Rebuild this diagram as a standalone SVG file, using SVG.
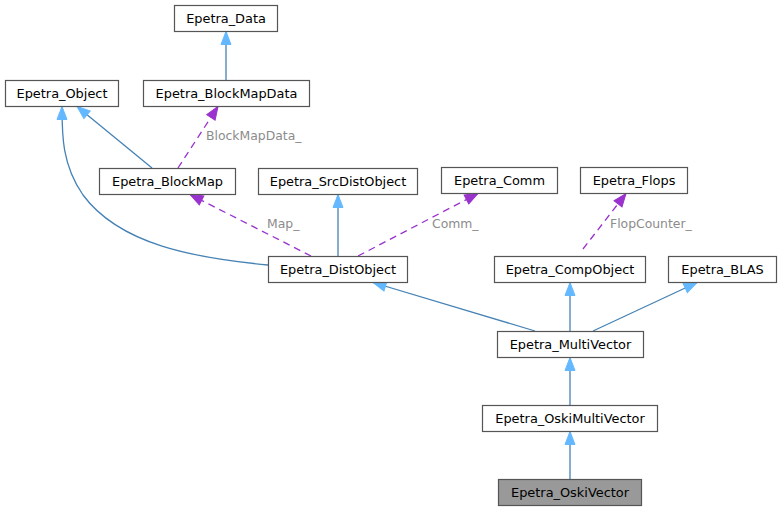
<svg xmlns="http://www.w3.org/2000/svg" width="780" height="511" viewBox="0 0 780 511">
<style>
.node rect{fill:#ffffff;stroke:#555555;stroke-width:1.2}
.node.root rect{fill:#999999}
.node text{font-family:"DejaVu Sans",sans-serif;font-size:12.9px;fill:#000;text-anchor:middle}
.inh{fill:none;stroke:#4682b4;stroke-width:1.3}
.use{fill:none;stroke:#9a32cd;stroke-width:1.3;stroke-dasharray:7,5}
.lbl{font-family:"DejaVu Sans",sans-serif;font-size:12.4px;fill:#8c8c8c}
</style>
<defs>
<marker id="ab" markerUnits="userSpaceOnUse" markerWidth="16" markerHeight="14" refX="14" refY="6" orient="auto">
<path d="M1,1 L14,6 L1,11 z" fill="#63b8ff" stroke="#63b8ff" stroke-width="1"/>
</marker>
<marker id="ap" markerUnits="userSpaceOnUse" markerWidth="16" markerHeight="14" refX="14" refY="6" orient="auto">
<path d="M1,1 L14,6 L1,11 z" fill="#9a32cd" stroke="#9a32cd" stroke-width="1"/>
</marker>
</defs>
<g id="connectors">
<path class="inh" d="M226,80 L226,31.5" marker-end="url(#ab)"/>
<path class="inh" d="M152,168 L77,106.5" marker-end="url(#ab)"/>
<path class="inh" d="M268,265 C195,258 120,245 83,195 C62,165 62,135 62,106.5" marker-end="url(#ab)"/>
<path class="use" d="M178,168 L218,106.5" marker-end="url(#ap)"/>
<path class="use" d="M311,256 L190,194.5" marker-end="url(#ap)"/>
<path class="inh" d="M338,256 L338,194.5" marker-end="url(#ab)"/>
<path class="use" d="M358,256 L478,193.5" marker-end="url(#ap)"/>
<path class="use" d="M583,249 L626,193.5" marker-end="url(#ap)"/>
<path class="inh" d="M535,331 L373,282.5" marker-end="url(#ab)"/>
<path class="inh" d="M570,331 L570,282.5" marker-end="url(#ab)"/>
<path class="inh" d="M593,331 L697,282.5" marker-end="url(#ab)"/>
<path class="inh" d="M570,405 L570,357.5" marker-end="url(#ab)"/>
<path class="inh" d="M570,479 L570,431.5" marker-end="url(#ab)"/>
<text class="lbl" x="206" y="140">BlockMapData_</text>
<text class="lbl" x="267" y="228">Map_</text>
<text class="lbl" x="432" y="228">Comm_</text>
<text class="lbl" x="610" y="228">FlopCounter_</text>
</g>
<g id="Epetra_Data" class="node"><rect x="174.5" y="5.5" width="103" height="26"/><text x="226" y="22.5">Epetra_Data</text></g>
<g id="Epetra_Object" class="node"><rect x="5.5" y="80.5" width="113" height="26"/><text x="62" y="97.5">Epetra_Object</text></g>
<g id="Epetra_BlockMapData" class="node"><rect x="143.5" y="80.5" width="166" height="26"/><text x="226.5" y="97.5">Epetra_BlockMapData</text></g>
<g id="Epetra_BlockMap" class="node"><rect x="99.5" y="168.5" width="136" height="26"/><text x="167.5" y="185.5">Epetra_BlockMap</text></g>
<g id="Epetra_SrcDistObject" class="node"><rect x="258.5" y="168.5" width="159" height="26"/><text x="338" y="185.5">Epetra_SrcDistObject</text></g>
<g id="Epetra_Comm" class="node"><rect x="441.5" y="167.5" width="116" height="26"/><text x="499.5" y="184.5">Epetra_Comm</text></g>
<g id="Epetra_Flops" class="node"><rect x="580.5" y="167.5" width="107" height="26"/><text x="634" y="184.5">Epetra_Flops</text></g>
<g id="Epetra_DistObject" class="node"><rect x="268.5" y="256.5" width="139" height="26"/><text x="338" y="273.5">Epetra_DistObject</text></g>
<g id="Epetra_CompObject" class="node"><rect x="494.5" y="256.5" width="151" height="26"/><text x="570" y="273.5">Epetra_CompObject</text></g>
<g id="Epetra_BLAS" class="node"><rect x="668.5" y="256.5" width="108" height="26"/><text x="722.5" y="273.5">Epetra_BLAS</text></g>
<g id="Epetra_MultiVector" class="node"><rect x="497.5" y="331.5" width="146" height="26"/><text x="570.5" y="348.5">Epetra_MultiVector</text></g>
<g id="Epetra_OskiMultiVector" class="node"><rect x="482.5" y="405.5" width="175" height="26"/><text x="570" y="422.5">Epetra_OskiMultiVector</text></g>
<g id="Epetra_OskiVector" class="node root"><rect x="498.5" y="479.5" width="143" height="26"/><text x="570" y="496.5">Epetra_OskiVector</text></g>
</svg>
